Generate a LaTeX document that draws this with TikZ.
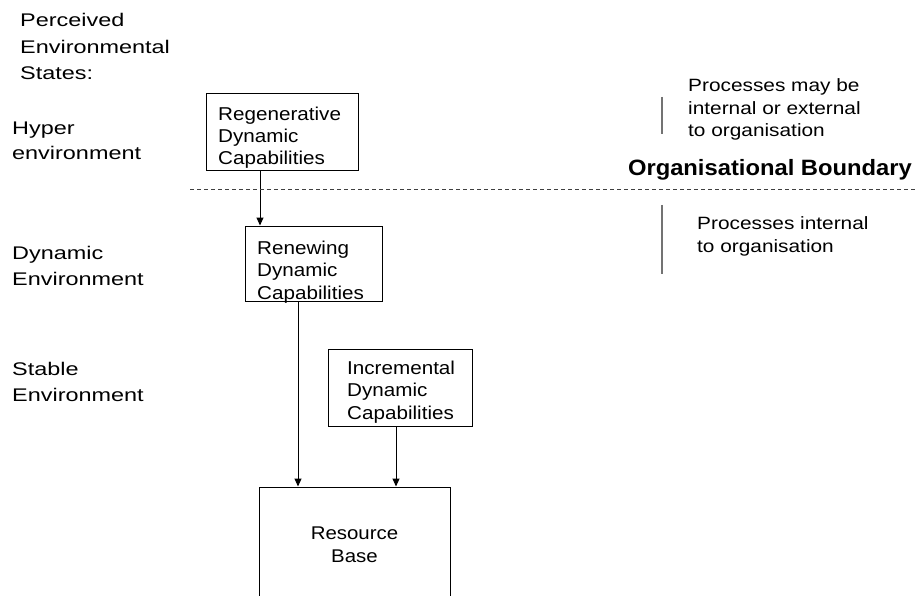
\documentclass[tikz,border=0pt]{standalone}
\usepackage{fontspec}
\setmainfont{Liberation Sans}
\newfontfamily\lblfont[FakeStretch=1.28]{Liberation Sans}
\newfontfamily\bxfont[FakeStretch=1.11]{Liberation Sans}
\newfontfamily\rtfont[FakeStretch=1.17]{Liberation Sans}
\newfontfamily\bdfont[FakeStretch=1.07]{Liberation Sans}
\usetikzlibrary{arrows.meta}
\tikzset{
  bx/.style={draw=black, line width=1pt, rectangle, inner sep=0pt},
  bxtxt/.style={font=\bxfont\fontsize{18.6}{22.3}\selectfont, align=left, inner sep=0pt},
  restxt/.style={font=\bxfont\fontsize{18.4}{23}\selectfont, align=center, inner sep=0pt},
  lbl/.style={font=\lblfont\fontsize{18.3}{25.5}\selectfont, align=left, inner sep=0pt},
  rttxt/.style={font=\rtfont\fontsize{17.8}{22.7}\selectfont, align=left, inner sep=0pt},
  bdtxt/.style={font=\bdfont\bfseries\fontsize{22.2}{26}\selectfont, inner sep=0pt},
  arr/.style={draw=black, line width=1pt, -{Triangle[length=8pt,width=7pt]}},
  boundary/.style={draw=black!75, line width=0.9pt, dash pattern=on 4pt off 3pt},
  bar/.style={draw=black!55, line width=1.5pt}
}
\begin{document}
\begin{tikzpicture}[x=1pt,y=-1pt]
\fill[white] (0,0) rectangle (915,596);
\useasboundingbox (0,0) rectangle (915,596);

% left labels (anchor = baseline of last line)
\node[lbl, anchor=base west, font=\lblfont\fontsize{18.3}{26.5}\selectfont] (perc) at (20,80) {Perceived\\Environmental\\States:};
\node[lbl, anchor=base west] (hyper) at (12,160) {Hyper\\environment};
\node[lbl, anchor=base west] (dyn) at (12,285) {Dynamic\\Environment};
\node[lbl, anchor=base west] (stab) at (12,401) {Stable\\Environment};

% boxes
\node[bx, minimum width=152pt, minimum height=77pt] (regen) at (282,132.5) {};
\node[bx, minimum width=137pt, minimum height=75pt] (renew) at (313.5,263.5) {};
\node[bx, minimum width=144pt, minimum height=77pt] (incr) at (400,387.5) {};
\node[bx, minimum width=191pt, minimum height=115pt] (res) at (354.5,544.5) {};

\node[bxtxt, anchor=base west] (regent) at (218,165) {Regenerative\\Dynamic\\Capabilities};
\node[bxtxt, anchor=base west] (renewt) at (257,299) {Renewing\\Dynamic\\Capabilities};
\node[bxtxt, anchor=base west] (incrt) at (347,419) {Incremental\\Dynamic\\Capabilities};
\node[restxt, anchor=base] (rest) at (354.5,562) {Resource\\Base};

% connectors
\coordinate (c1) at (260,0);
\coordinate (c2) at (298,0);
\coordinate (c3) at (396,0);
\draw[arr] (regen.south -| c1) -- (renew.north -| c1);
\draw[arr] (renew.south -| c2) -- (res.north -| c2);
\draw[arr] (incr.south -| c3) -- (res.north -| c3);

% organisational boundary
\coordinate (bl) at (190,189);
\coordinate (br) at (915,189);
\draw[boundary] (bl) -- (br);
\node[bdtxt, anchor=base east] (orgb) at (912,176) {Organisational Boundary};

% right notes
\coordinate (b1t) at (662,97);
\coordinate (b1b) at (662,134);
\coordinate (b2t) at (662,205);
\coordinate (b2b) at (662,274);
\draw[bar] (b1t) -- (b1b);
\draw[bar] (b2t) -- (b2b);
\node[rttxt, anchor=base west] (note1) at (688,137) {Processes may be\\internal or external\\to organisation};
\node[rttxt, anchor=base west] (note2) at (697,252) {Processes internal\\to organisation};
\end{tikzpicture}
\end{document}
